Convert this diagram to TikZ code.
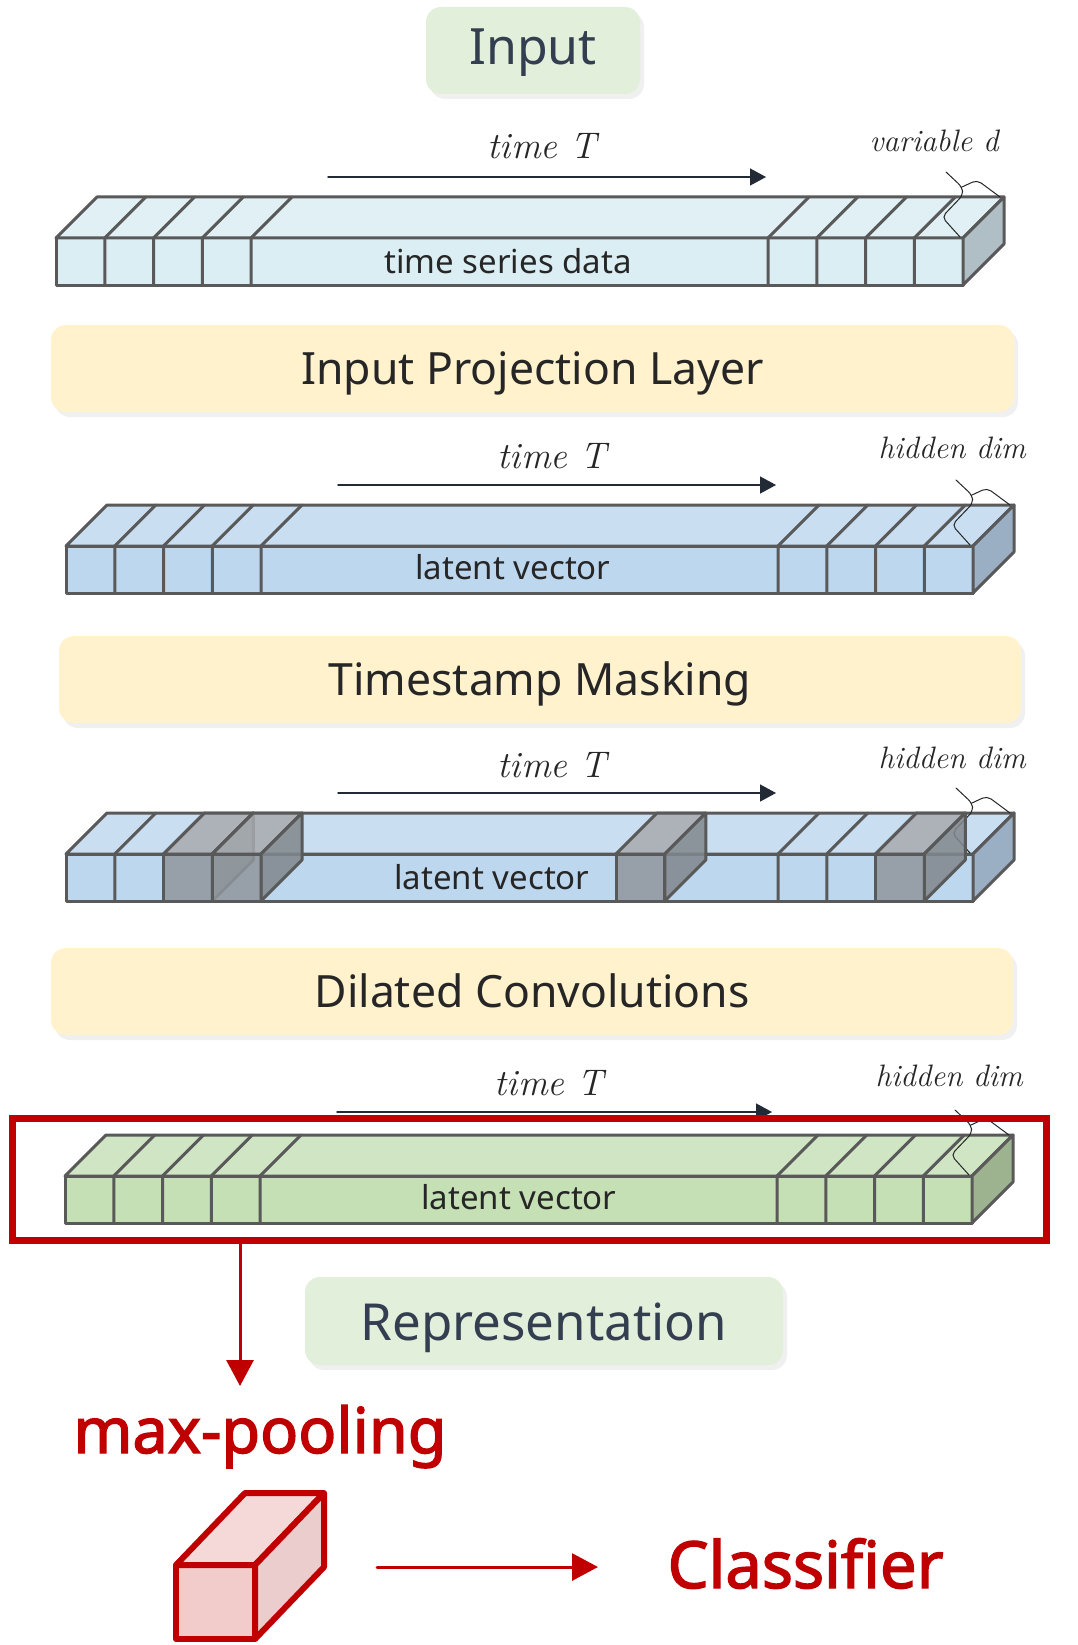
\documentclass[tikz,border=0pt]{standalone}
\usepackage{fontspec}
\setmainfont{Noto Sans}
\newfontfamily\lmitalic{Latin Modern Roman}
\newfontfamily\heavysans{Noto Sans}[FakeBold=2.2]
\usetikzlibrary{arrows.meta,shadows}

\definecolor{edgegray}{HTML}{595959}
\definecolor{navy}{HTML}{222A35}
\definecolor{titlenavy}{HTML}{333F50}
\definecolor{inputgreen}{HTML}{E2EFDA}
\definecolor{layeryellow}{HTML}{FFF2CC}
\definecolor{darkred}{HTML}{C00000}
\definecolor{cyanfront}{HTML}{DAEEF3}
\definecolor{cyantop}{HTML}{E0F0F5}
\definecolor{cyanside}{HTML}{B0BEC5}
\definecolor{bluefront}{HTML}{BDD7EE}
\definecolor{bluetop}{HTML}{C9DEF1}
\definecolor{blueside}{HTML}{9AAFC4}
\definecolor{greenfront}{HTML}{C5E0B4}
\definecolor{greentop}{HTML}{D0E5C4}
\definecolor{greenside}{HTML}{9DB38F}
\definecolor{maskfront}{HTML}{91979D}
\definecolor{masktop}{HTML}{A7ABAF}
\definecolor{maskside}{HTML}{81878C}
\definecolor{redfront}{HTML}{F2CBCB}
\definecolor{redtop}{HTML}{F5D8D8}
\definecolor{redside}{HTML}{EBCDCE}

\tikzset{
  tensoredge/.style={draw=edgegray, line width=3pt, line join=round},
  braceline/.style={draw=black!85, line width=1pt, rounded corners=5pt},
  inputbox/.style={rounded corners=15pt, fill=#1, inner sep=0pt,
    drop shadow={opacity=0.12, shadow xshift=4pt, shadow yshift=-5pt}},
  layerbox/.style={inputbox=layeryellow, minimum height=87pt, text=black!85,
    font=\fontsize{44.5}{50}\selectfont, text height=35pt, text depth=4pt},
  timelabel/.style={anchor=base, text=black!85, font=\fontsize{37}{42}\selectfont\lmitalic\itshape},
  dimlabel/.style={anchor=base west, text=black!85, font=\fontsize{31}{36}\selectfont\lmitalic\itshape},
  barlabel/.style={anchor=base, text=black!85, font=\fontsize{33}{38}\selectfont},
  redlabel/.style={anchor=base west, text=darkred, font=\fontsize{#1}{70}\selectfont\heavysans},
  timearrow/.style={draw=navy, line width=1.5pt, -{Triangle[length=16pt,width=17pt]}},
  redarrow/.style={draw=darkred, line width=3pt, -{Triangle[length=26pt,width=27pt]}},
  redcube/.style={draw=darkred, line width=6pt, line join=round},
}

% tensor: left x, front top y, front, top, side colour
\newcommand{\tensorbar}[5]{%
  \pgfmathsetmacro\xr{#1+907}
  \pgfmathsetmacro\yb{#2+47}
  \draw[tensoredge, fill=#3] (#1,#2) rectangle (\xr,\yb);
  \draw[tensoredge, fill=#4] (#1,#2) -- ++(41,-41) -- (\xr+41,#2-41) -- (\xr,#2) -- cycle;
  \draw[tensoredge, fill=#5] (\xr,#2) -- ++(41,-41) -- ++(0,47) -- (\xr,\yb) -- cycle;
  \foreach \k in {1,...,4}{
    \draw[tensoredge] (#1+48.75*\k,\yb) -- ++(0,-47) -- ++(41,-41);
    \draw[tensoredge] (\xr-48.75*\k,\yb) -- ++(0,-47) -- ++(41,-41);
  }
  \draw[braceline, shift={(\xr,#2)}] (-3,-1) -- (-21,-21) -- (0,-43) -- (-1,-51) -- (-17,-66)
    (-1,-51) -- (14,-58) -- (37,-41);
}

% masked time step
\newcommand{\maskcube}[2]{%
  \draw[tensoredge, fill=maskfront, fill opacity=.85] (#1,#2) rectangle ++(48.75,47);
  \draw[tensoredge, fill=masktop, fill opacity=.85] (#1,#2) -- ++(41,-41) -- ++(48.75,0) -- ++(-41,41) -- cycle;
  \draw[tensoredge, fill=maskside, fill opacity=.85] (#1+48.75,#2) -- ++(41,-41) -- ++(0,47) -- ++(-41,41) -- cycle;
}

\begin{document}
\begin{tikzpicture}[x=1pt, y=-1pt, line cap=round]
  \useasboundingbox (0,0) rectangle (1077,1645);

  % input
  \node[inputbox=inputgreen, minimum width=214pt, minimum height=87pt, text=titlenavy,
    font=\fontsize{50}{58}\selectfont, text height=36pt, text depth=7pt] (input) at (533,50.5) {Input};
  \coordinate (ta1) at (328,177); \coordinate (tb1) at (766,177);
  \draw[timearrow] (ta1) -- (tb1);
  \node[timelabel] (time1) at (542,159) {time T};
  \node[dimlabel] (dim1) at (866,152) {variable d};
  \tensorbar{56}{238}{cyanfront}{cyantop}{cyanside}
  \node[barlabel] (data) at (508,273) {time series data};

  % projection
  \node[layerbox, minimum width=963pt] (proj) at (532.5,368.5) {Input Projection Layer};
  \coordinate (ta2) at (338,485); \coordinate (tb2) at (776,485);
  \draw[timearrow] (ta2) -- (tb2);
  \node[timelabel] (time2) at (552,468) {time T};
  \node[dimlabel] (dim2) at (875,458) {hidden dim};
  \tensorbar{66}{546}{bluefront}{bluetop}{blueside}
  \node[barlabel] (latent2) at (513,579) {latent vector};

  % masking
  \node[layerbox, minimum width=962pt] (mask) at (540,679.5) {Timestamp Masking};
  \coordinate (ta3) at (338,793); \coordinate (tb3) at (776,793);
  \draw[timearrow] (ta3) -- (tb3);
  \node[timelabel] (time3) at (552,777) {time T};
  \node[dimlabel] (dim3) at (875,768) {hidden dim};
  \tensorbar{66}{854}{bluefront}{bluetop}{blueside}
  \node[barlabel] (latent3) at (492,889) {latent vector};
  \maskcube{163.5}{854}
  \maskcube{212.25}{854}
  \maskcube{616}{854}
  \maskcube{875.5}{854}

  % convolutions
  \node[layerbox, minimum width=962pt] (conv) at (532,991.5) {Dilated Convolutions};
  \coordinate (ta4) at (337,1112); \coordinate (tb4) at (772,1112);
  \draw[timearrow] (ta4) -- (tb4);
  \node[timelabel] (time4) at (549,1095) {time T};
  \node[dimlabel] (dim4) at (872,1086) {hidden dim};
  \tensorbar{65}{1176}{greenfront}{greentop}{greenside}
  \node[barlabel] (latent4) at (519,1209) {latent vector};
  \node[draw=darkred, line width=7pt, minimum width=1033.5pt, minimum height=122pt, inner sep=0pt]
    (selected) at (529.25,1179) {};

  % representation
  \node[inputbox=inputgreen, minimum width=478pt, minimum height=88pt, text=titlenavy,
    font=\fontsize{51}{58}\selectfont, text height=42pt, text depth=4pt] (repr) at (544,1321) {Representation};
  \coordinate (poolarrow) at (240,1386);
  \draw[redarrow] (selected.south -| poolarrow) -- (poolarrow);
  \node[redlabel=63] (pool) at (70,1453) {max-pooling};

  \draw[redcube, fill=redfront] (176,1565) rectangle (255,1639);
  \draw[redcube, fill=redtop] (176,1565) -- ++(69,-72) -- ++(79,0) -- ++(-69,72) -- cycle;
  \draw[redcube, fill=redside] (255,1565) -- ++(69,-72) -- ++(0,74) -- ++(-69,72) -- cycle;
  \coordinate (cubeout) at (377,1567); \coordinate (clfin) at (598,1567);
  \draw[redarrow] (cubeout) -- (clfin);
  \node[redlabel=65] (clf) at (664,1588) {Classifier};
\end{tikzpicture}
\end{document}
